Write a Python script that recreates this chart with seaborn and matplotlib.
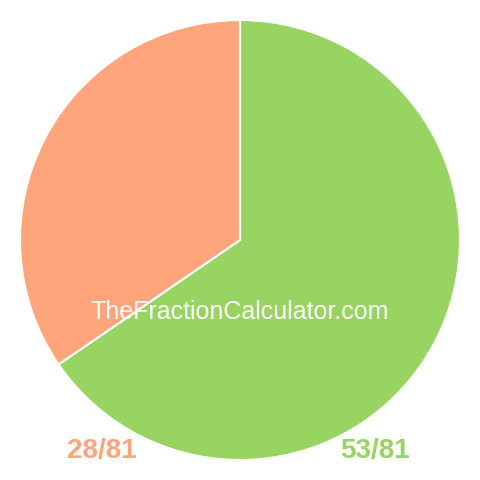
import matplotlib
matplotlib.use("Agg")
import matplotlib.pyplot as plt
import seaborn as sns

labels = ["53/81", "28/81"]
values = [53, 28]
colors = ["#98d462", "#ffa57c"]
watermark = "TheFractionCalculator.com"

sns.set_theme(style="white")
plt.rcParams['font.family'] = ['Liberation Sans', 'DejaVu Sans']

fig = plt.figure(figsize=(4.8, 4.8), dpi=100)
ax = fig.add_axes([0, 0, 1, 1])

# radius 1 = 220 px, figure is 480 px wide
ax.pie(values, colors=sns.color_palette(colors), startangle=90, counterclock=False,
       radius=1, center=(0, 0),
       wedgeprops=dict(edgecolor="white", linewidth=1.5))

lim = 240 / 220
ax.set_xlim(-lim, lim)
ax.set_ylim(-lim, lim)
ax.set_aspect("equal")
ax.axis("off")


def px(x, y):
    return (x - 240) / 220, (240 - y) / 220


ax.text(*px(240, 312), watermark, color="white", fontsize=18,
        ha="center", va="center")
ax.text(*px(102, 451), labels[1], color=colors[1], fontsize=20,
        fontweight="bold", ha="center", va="center")
ax.text(*px(375, 451), labels[0], color=colors[0], fontsize=20,
        fontweight="bold", ha="center", va="center")

fig.savefig("out.png", dpi=100)
